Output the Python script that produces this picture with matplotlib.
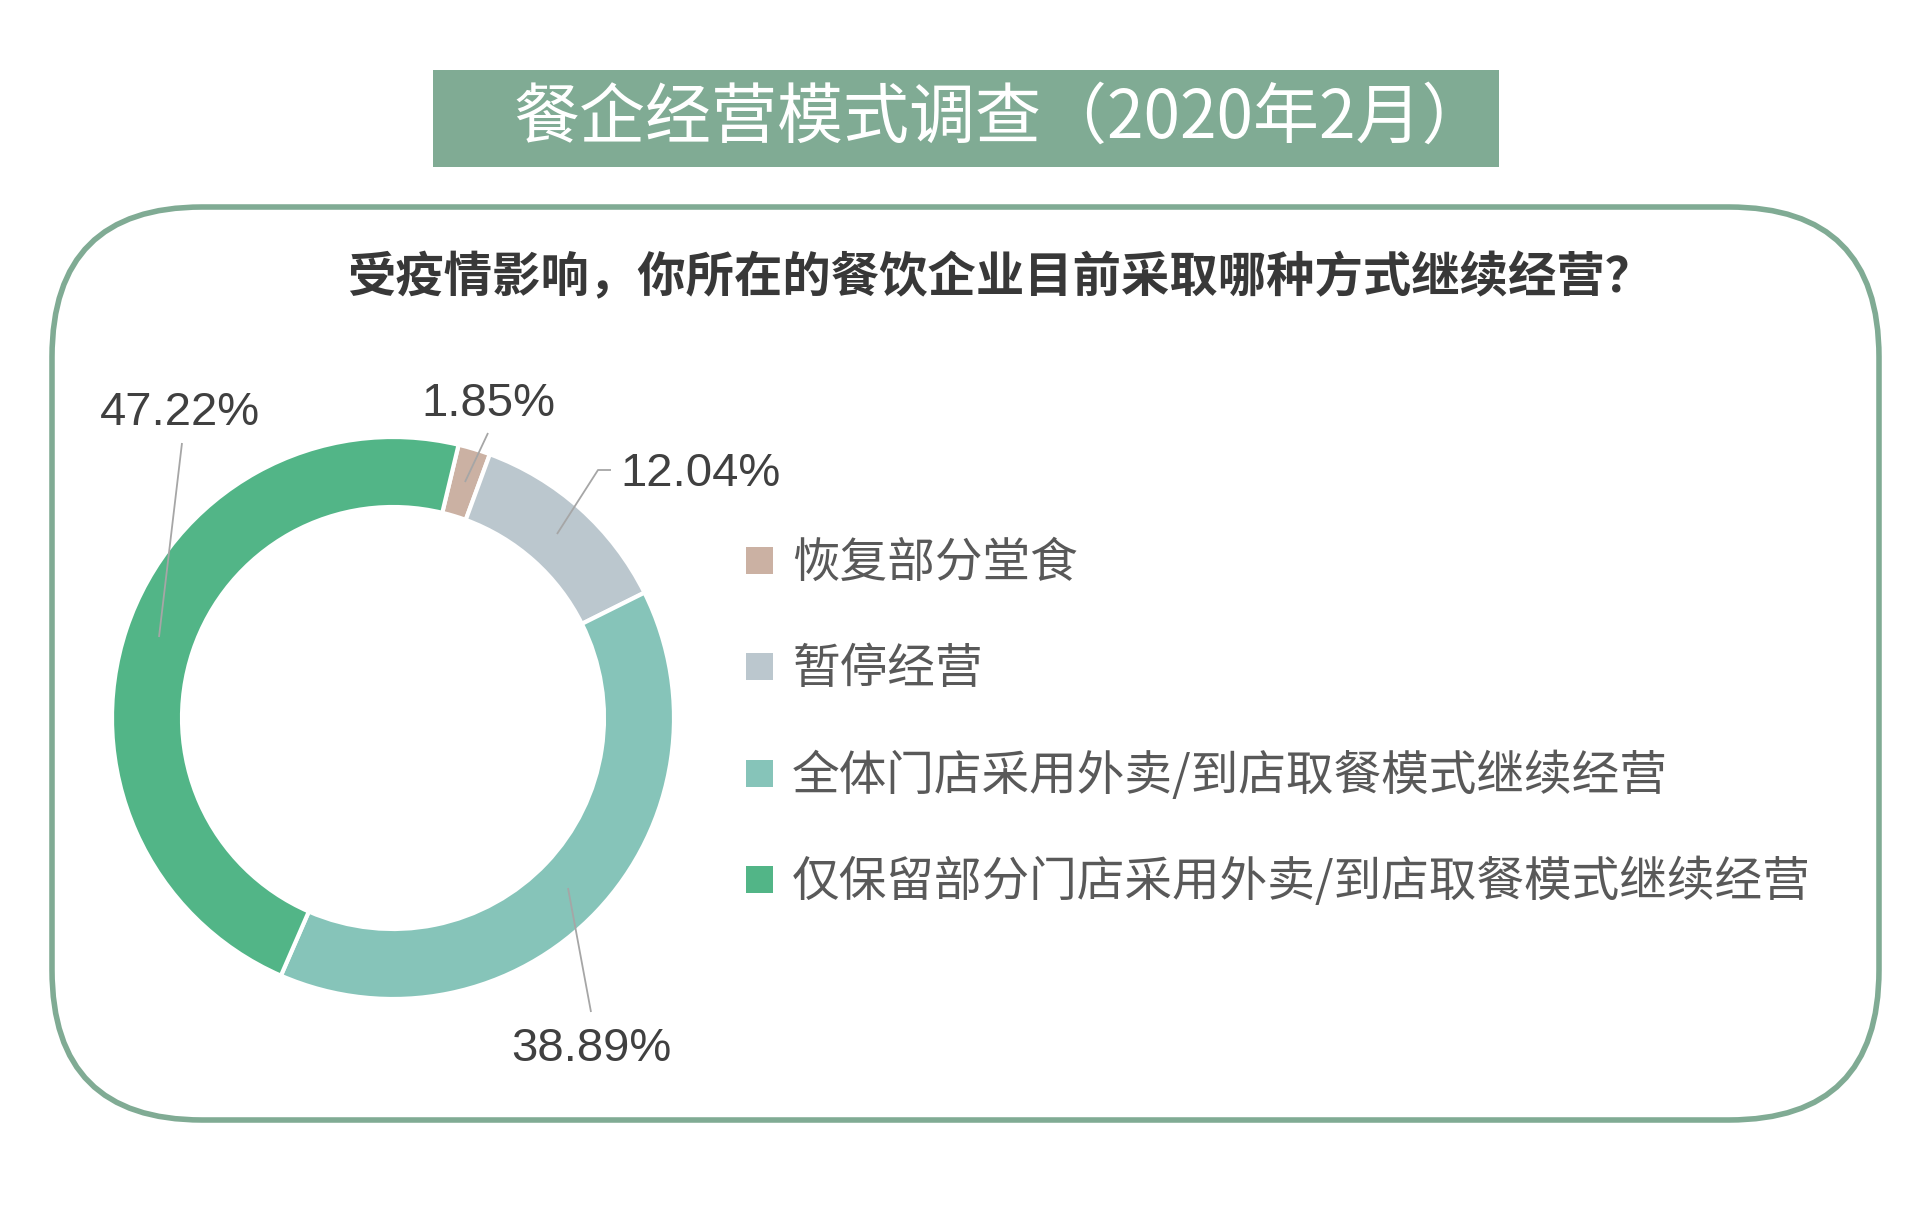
import matplotlib
matplotlib.use("Agg")
import matplotlib.pyplot as plt
from matplotlib.patches import FancyBboxPatch, Rectangle

# data
categories = ["恢复部分堂食", "暂停经营",
              "全体门店采用外卖/到店取餐模式继续经营",
              "仅保留部分门店采用外卖/到店取餐模式继续经营"]
shares = [1.85, 12.04, 38.89, 47.22]
pct_labels = ["1.85%", "12.04%", "38.89%", "47.22%"]
colors = ["#CBB1A3", "#BBC7CE", "#86C4B9", "#52B587"]

title = "餐企经营模式调查（2020年2月）"
subtitle = "受疫情影响，你所在的餐饮企业目前采取哪种方式继续经营？"

W, H = 1920, 1209
CJK = ["Noto Sans CJK SC", "DejaVu Sans"]
NUM = ["Liberation Sans", "DejaVu Sans"]
GREEN = "#80AB94"


def Y(y):
    # pixel row (from top) -> data y
    return H - y


fig = plt.figure(figsize=(W / 100, H / 100), dpi=100)
ax = fig.add_axes([0, 0, 1, 1])

# donut
cx, cy = 393, 718
ax.pie(shares, colors=colors, startangle=76.5, counterclock=False,
       center=(cx, Y(cy)), radius=281, frame=True,
       wedgeprops=dict(width=70, edgecolor="white", linewidth=3))

ax.set_xlim(0, W)
ax.set_ylim(0, H)
ax.set_aspect("auto")
ax.axis("off")

# title band
ax.add_patch(Rectangle((433, Y(167)), 1499 - 433, 97, facecolor=GREEN,
                       edgecolor="none"))
ax.text(513, Y(119), title, family=CJK, fontsize=47.5, color="white",
        ha="left", va="center")

# rounded frame
ax.add_patch(FancyBboxPatch((52, Y(1120)), 1879 - 52, 1120 - 207,
                            boxstyle="round,pad=0,rounding_size=150",
                            facecolor="none", edgecolor=GREEN, linewidth=4))

ax.text(1000, Y(278), subtitle, family=CJK, fontsize=34.8, fontweight="bold",
        color="#383838", ha="center", va="center")

# percentage labels with leader lines
label_pos = [(488, 404), (700, 474), (591, 1049), (180, 413)]
leaders = [
    [(488, 433), (465, 482)],
    [(611, 470), (598, 470), (557, 534)],
    [(568, 888), (591, 1012)],
    [(182, 443), (159, 637)],
]
for txt, (tx, ty), pts in zip(pct_labels, label_pos, leaders):
    ax.plot([p[0] for p in pts], [Y(p[1]) for p in pts], color="#A6A6A6",
            linewidth=1.3, solid_capstyle="butt")
    ax.text(tx, Y(ty), txt, family=NUM, fontsize=34, color="#404040",
            ha="center", va="center")

# legend
leg_y = [560, 666, 773, 879]
for cat, col, ly in zip(categories, colors, leg_y):
    ax.add_patch(Rectangle((746, Y(ly + 13.5)), 27, 27, facecolor=col,
                           edgecolor="none"))
    ax.text(792, Y(ly + 3), cat, family=CJK, fontsize=34.3, color="#595959",
            ha="left", va="center")

fig.savefig("out.png", dpi=100)
